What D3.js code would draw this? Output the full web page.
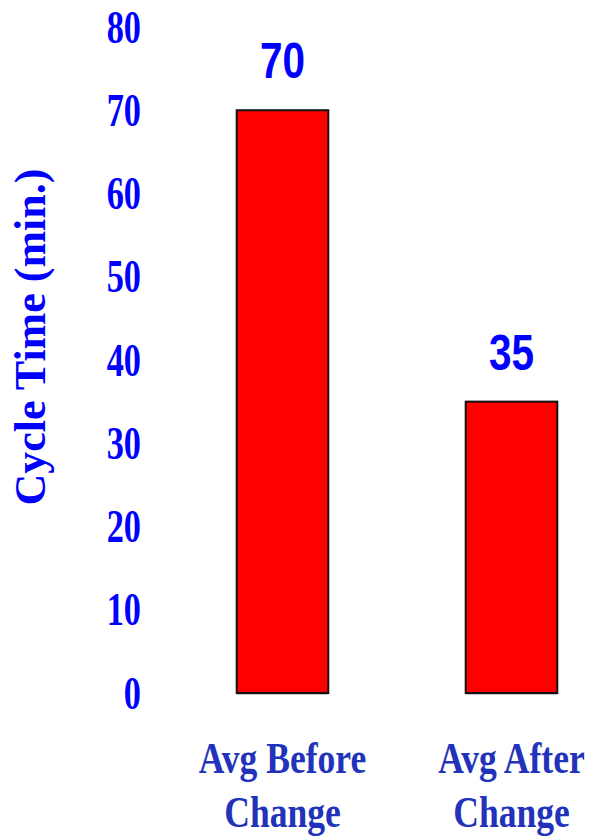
<!DOCTYPE html>
<html>
<head>
<meta charset="utf-8">
<script src="https://cdn.jsdelivr.net/npm/d3@7"></script>
<style>
  html, body { margin: 0; padding: 0; background: #fff; }
  svg { display: block; }
</style>
</head>
<body>
<script>
// Average cycle time before and after the process change
const categories = ["Avg Before Change", "Avg After Change"];
const categoryLines = [["Avg Before", "Change"], ["Avg After", "Change"]];
const cycleTimes = [70, 35];
const yTicks = [0, 10, 20, 30, 40, 50, 60, 70, 80];

const W = 595, H = 839;
const serif = "'Liberation Serif', 'Times New Roman', serif";
const sans = "'Liberation Sans', Arial, sans-serif";

const svg = d3.select("body").append("svg")
  .attr("width", W).attr("height", H);

const y = d3.scaleLinear().domain([0, 80]).range([693, 27]);
const x = d3.scaleBand().domain(categories)
  .range([168, 626]).paddingInner(0.6).paddingOuter(0.3);

// Y axis: labels only, no line or ticks
const yAxis = svg.append("g")
  .attr("transform", "translate(141,0)")
  .call(d3.axisLeft(y).tickValues(yTicks).tickSize(0).tickPadding(0));
yAxis.select(".domain").remove();
yAxis.selectAll("text")
  .attr("fill", "#0000ff")
  .attr("font-family", serif)
  .attr("font-weight", "bold")
  .attr("font-size", 47)
  .attr("transform", "scale(0.73,1)");

// Axis title
svg.append("text")
  .attr("transform", "translate(45,337) rotate(-90)")
  .attr("text-anchor", "middle")
  .attr("fill", "#0000ff")
  .attr("font-family", serif)
  .attr("font-weight", "bold")
  .attr("font-size", 44)
  .text("Cycle Time (min.)");

const data = categories.map((c, i) => ({ c, v: cycleTimes[i], lines: categoryLines[i] }));

// Faint base line under each bar
svg.selectAll("line.base").data(data).enter().append("line")
  .attr("class", "base")
  .attr("x1", d => x(d.c))
  .attr("x2", d => x(d.c) + x.bandwidth())
  .attr("y1", y(0) + 1.5).attr("y2", y(0) + 1.5)
  .attr("stroke", "#c8c8c8").attr("stroke-width", 1.2);

// Bars
svg.selectAll("rect.bar").data(data).enter().append("rect")
  .attr("class", "bar")
  .attr("x", d => x(d.c))
  .attr("y", d => y(d.v))
  .attr("width", x.bandwidth())
  .attr("height", d => y(0) - y(d.v))
  .attr("fill", "#ff0000")
  .attr("stroke", "#111")
  .attr("stroke-width", 2);

// Value labels
svg.selectAll("text.val").data(data).enter().append("text")
  .attr("class", "val")
  .attr("transform", d => `translate(${x(d.c) + x.bandwidth() / 2},${y(d.v) - 32}) scale(0.81,1)`)
  .attr("text-anchor", "middle")
  .attr("fill", "#0000ff")
  .attr("font-family", sans)
  .attr("font-weight", "bold")
  .attr("font-size", 50)
  .text(d => d.v);

// Category labels (two lines)
const cat = svg.selectAll("text.cat").data(data).enter().append("text")
  .attr("class", "cat")
  .attr("transform", d => `translate(${x(d.c) + x.bandwidth() / 2},773) scale(0.79,1)`)
  .attr("text-anchor", "middle")
  .attr("fill", "#2233bb")
  .attr("font-family", serif)
  .attr("font-weight", "bold")
  .attr("font-size", 45);
cat.selectAll("tspan").data(d => d.lines).enter().append("tspan")
  .attr("x", 0)
  .attr("y", (d, i) => i * 54)
  .text(d => d);
</script>
</body>
</html>
